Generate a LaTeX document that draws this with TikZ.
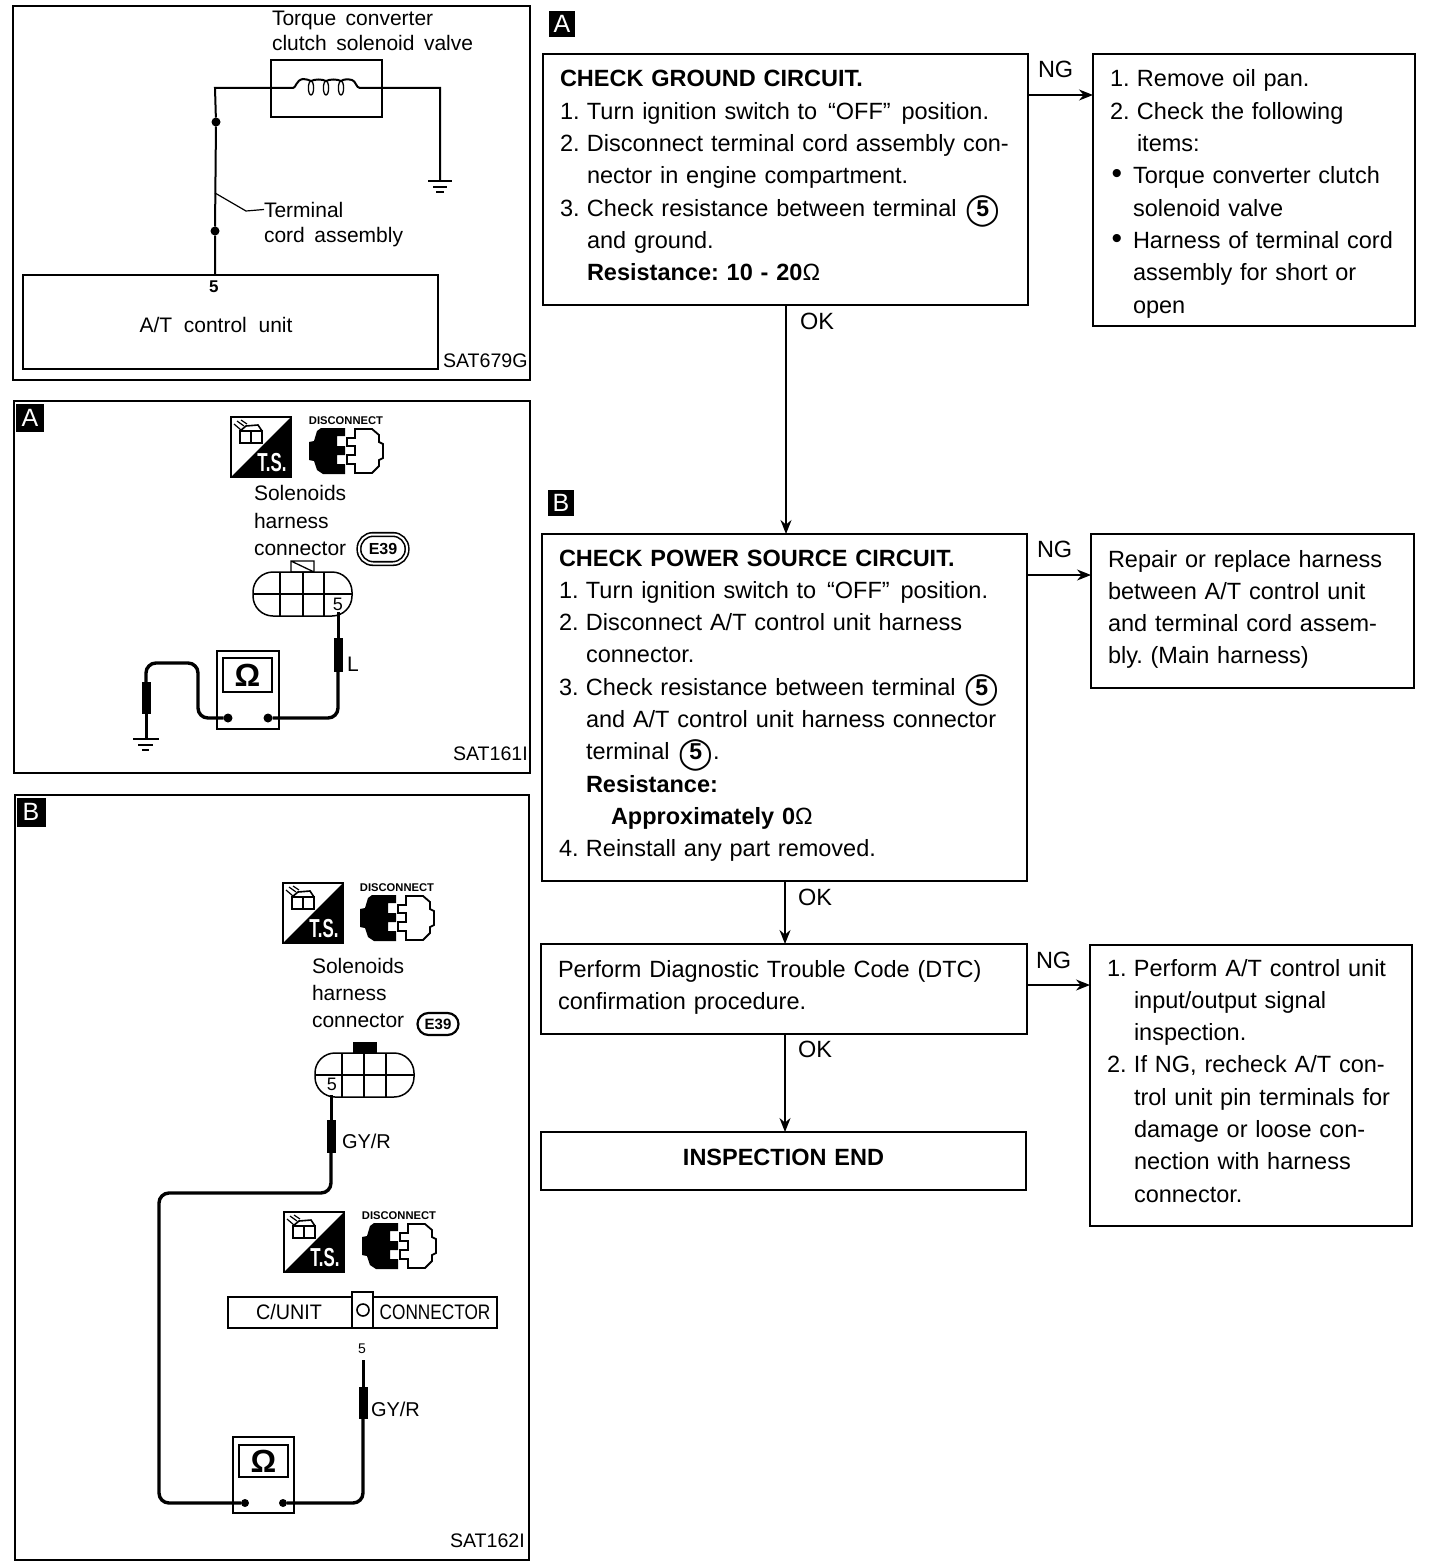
\documentclass[tikz,border=0pt]{standalone}
\usepackage{fontspec}
\usepackage{graphicx}
\setmainfont{Liberation Sans}
\newfontfamily\circfont{DejaVu Sans}
\usetikzlibrary{arrows.meta,calc}
\frenchspacing
\newcommand\ffl{\fontsize{23.5}{32.3}\selectfont}
\newcommand\fsm{\fontsize{21}{25}\selectfont}
\newcommand\fsat{\fontsize{19.6}{25}\selectfont}
\newcommand\gap{\hspace{9.5pt}}
\newcommand\cfive{\hspace*{1pt}\smash{\ooalign{\raisebox{-3.5pt}{\circfont\bfseries\fontsize{31}{31}\selectfont ◯}\cr\hfil\bfseries\fontsize{23}{23}\selectfont 5\hfil}}}
\newcommand\nr[1]{\makebox[27pt][l]{#1}}
\newcommand\ind{\hspace*{27pt}}
\newcommand\bul{\makebox[23pt][l]{\hspace*{1.5pt}\fontsize{30}{30}\selectfont •}}
\newcommand\qo{\kern3pt“}
\newcommand\qc{”\kern3pt}
\newcommand\ohm{\textmd{Ω}}
% name, x1, y1, x2, y2, inset, first baseline, last baseline, text
\newcommand\flowbox[9]{%
  \pgfmathsetmacro\fbw{#4-#2}\pgfmathsetmacro\fbh{#5-#3}%
  \pgfmathsetmacro\fbt{\fbw-2*#6}\pgfmathsetmacro\fba{#7-#3}\pgfmathsetmacro\fbb{#5-#8}%
  \node[flow,minimum width=\fbw pt,minimum height=\fbh pt,text width=\fbt pt,inner xsep=#6pt] (#1) at (#2,#3)
    {\rule{0pt}{\fba pt}#9\rule[-\fbb pt]{0pt}{\fbb pt}};}
\newcommand\lbl[4]{\node[lab] (#1) at (#2,#3) {#4};}
\newcommand\tsicon[3]{%
  \begin{scope}[shift={(#2,#3)}]
    \node[draw,line width=1.8pt,minimum size=60pt,inner sep=0,anchor=north west] (#1) at (0,0) {};
    \fill (60,0) -- (60,60) -- (0,60) -- cycle;
    \draw[line width=1.6pt] (9,14) rectangle (31,26) (20,14) -- (20,26) (9,14) -- (15,9) -- (27,8) -- (31,14);
    \draw[line width=1.2pt] (3,7) -- (10,13) (6,4) -- (13,9) (10,3) -- (16,7);
    \node[white,font=\bfseries\fontsize{26}{26}\selectfont,inner sep=0] (#1t) at (41,46) {\scalebox{0.65}[1]{T.S.}};
  \end{scope}}
\newcommand\plugicon[3]{%
  \begin{scope}[shift={(#2,#3)}]
    \node[font=\bfseries\fontsize{11.2}{11.2}\selectfont,inner sep=0,anchor=base] (#1) at (37,-4) {DISCONNECT};
    \fill (0,14) -- (5,13) -- (8,3) -- (12,0) -- (36,0) -- (36,8) -- (28,8) -- (28,18) -- (36,18) -- (36,27) -- (28,27) -- (28,36) -- (36,36) -- (36,46) -- (14,46) -- (8,42) -- (5,33) -- (0,32) -- cycle;
    \draw[line width=1.8pt] (38,10) -- (46,10) -- (46,1) -- (63,1) -- (70,7) -- (70,14) -- (74,16) -- (74,30) -- (70,32) -- (70,38) -- (63,45) -- (46,45) -- (46,36) -- (38,36) -- (38,27) -- (46,27) -- (46,18) -- (38,18) -- cycle;
  \end{scope}}
\tikzset{
  every node/.style={outer sep=0pt},
  flow/.style={draw,line width=1.7pt,rectangle,anchor=north west,inner ysep=0pt,align=left,font=\ffl},
  lab/.style={anchor=base west,inner sep=0,font=\fsm},
  edgelab/.style={anchor=base west,inner sep=0,font=\fontsize{23.5}{25}\selectfont},
  panel/.style={line width=2pt},
  wire/.style={line width=2pt},
  leadwire/.style={line width=3pt},
  thickwire/.style={line width=3.4pt,rounded corners=10pt},
  flowarrow/.style={line width=1.3pt,-{Stealth[length=14pt,width=11pt]}},
  badge/.style={fill=black,text=white,inner sep=0,minimum size=26pt,font=\fontsize{25}{25}\selectfont},
  dot/.style={circle,fill=black,inner sep=0,minimum size=9pt},
  sleeve/.style={fill=black,inner sep=0,anchor=north},
}
\begin{document}
\begin{tikzpicture}[x=1pt,y=-1pt]
\useasboundingbox (0,0) rectangle (1440,1568);
%% ---------- Panel 1
\draw[panel] (13,6) rectangle (530,380);
\node[draw,line width=2pt,minimum width=111pt,minimum height=57pt,inner sep=0,anchor=north west] (sol) at (271,60) {};
\node[draw,line width=2pt,minimum width=415pt,minimum height=94pt,inner sep=0,anchor=north west] (atcu) at (23,275) {};
\lbl{tq1}{272}{26}{Torque\gap converter}
\lbl{tq2}{272}{51}{clutch\gap solenoid\gap valve}
\lbl{t5}{209}{292}{\bfseries\fontsize{17}{17}\selectfont 5}
\node[inner sep=0,font=\fsm,anchor=base] (atl) at (216,332) {A/T\ \ control\ \ unit};
\node[lab,font=\fsat] (sat1) at (443,367) {SAT679G};
\lbl{term}{264}{217}{Terminal}
\lbl{cord}{264}{242}{cord\gap assembly}
\node[dot] (d1) at (216,122) {};
\node[dot] (d2) at (215,231) {};
\coordinate (cA) at (215,88);
\coordinate (gnd1) at (440,180);
\draw[wire] (atcu.north west -| d2) -- (d2) -- (d1) -- (cA) -- (sol.west |- cA) -- (293,88)
  .. controls (296,88) and (296,80) .. (303,79) .. controls (306,79) and (309,80) .. (311,81)
  .. controls (315,79) and (322,79) .. (326,81) .. controls (330,79) and (337,79) .. (341,81)
  .. controls (344,79) and (348,79) .. (352,80) .. controls (356,81) and (356,88) .. (360,88) -- (sol.east |- cA) -- (440,88) -- (gnd1);
\draw[line width=1.3pt] (311,88) ellipse (2.6 and 7) (326,88) ellipse (2.6 and 7) (341,88) ellipse (2.6 and 7);
\draw[line width=1.5pt] (428,181) -- (452,181) (433,187) -- (447,187);
\draw[line width=2pt] (436,192) -- (444,192);
\draw[line width=1.2pt] (215,193) -- (246,211) -- (term.west);
%% ---------- Panel 2
\draw[panel] (14,401) rectangle (530,773);
\node[badge,minimum size=28pt] (bA1) at (30,418) {A};
\tsicon{ts1}{231}{417}
\plugicon{pl1}{309}{428}
\lbl{sa1}{254}{500}{Solenoids}
\lbl{sa2}{254}{528}{harness}
\lbl{sa3}{254}{555}{connector}
\node[draw,double,double distance=2pt,line width=1.6pt,rounded corners=14pt,minimum width=48pt,minimum height=29pt,inner sep=0,font=\bfseries\fontsize{16}{16}\selectfont] (e1) at (383,549) {E39};
\draw[line width=1.5pt,rounded corners=20pt] (253,572) rectangle (352,616);
\draw[line width=1.5pt] (253,594) -- (352,594) (280,572) -- (280,616) (303,572) -- (303,616) (324,572) -- (324,616);
\draw[line width=1.3pt] (291,572) rectangle (314,561) (291,561) -- (314,572);
\node[font=\fontsize{18}{18}\selectfont,inner sep=0,fill=white,anchor=base] (p5a) at (338,610) {5};
\coordinate (w1) at (338,612);
\node[sleeve,minimum width=9pt,minimum height=34pt] (s1) at (338,638) {};
\node[inner sep=0,anchor=base west,font=\fsm] (ll) at (347,671) {L};
\node[draw,line width=2pt,minimum width=62pt,minimum height=78pt,inner sep=0,anchor=north west] (m1) at (217,651) {};
\node[draw,line width=2pt,minimum width=49pt,minimum height=34pt,inner sep=0,anchor=north west,font=\bfseries\fontsize{32}{32}\selectfont] (m1d) at (223,658) {Ω};
\node[dot] (m1l) at (228,718) {};
\node[dot] (m1r) at (268,718) {};
\draw[leadwire] (w1) -- (s1.north);
\draw[thickwire] (s1.south) -- (338,718) -- (m1r);
\node[sleeve,minimum width=9pt,minimum height=32pt] (s2) at (146,682) {};
\coordinate (g2) at (146,739);
\draw[thickwire] (m1l) -- (198,718) -- (198,663) -- (146,663) -- (s2.north);
\draw[leadwire] (s2.south) -- (g2);
\draw[line width=2pt] (133,739) -- (159,739) (138,745) -- (153,745);
\draw[line width=2.5pt] (142,750) -- (149,750);
\node[lab,font=\fsat] (sat2) at (453,760) {SAT161I};
%% ---------- Panel 3
\draw[panel] (15,795) rectangle (529,1560);
\node[badge,minimum size=29pt] (bB1) at (31,812) {B};
\tsicon{ts2}{283}{883}
\plugicon{pl2}{360}{895}
\lbl{sb1}{312}{973}{Solenoids}
\lbl{sb2}{312}{1000}{harness}
\lbl{sb3}{312}{1027}{connector}
\node[draw,line width=2.2pt,rounded corners=11pt,minimum width=41pt,minimum height=22pt,inner sep=0,font=\bfseries\fontsize{15}{15}\selectfont] (e2) at (438,1024) {E39};
\draw[line width=1.5pt,rounded corners=20pt] (315,1053) rectangle (414,1097);
\draw[line width=1.5pt] (315,1075) -- (414,1075) (342,1053) -- (342,1097) (364,1053) -- (364,1097) (386,1053) -- (386,1097);
\fill (353,1042) rectangle (377,1053);
\node[font=\fontsize{18}{18}\selectfont,inner sep=0,fill=white,anchor=base] (p5b) at (332,1090) {5};
\coordinate (w3) at (331,1095);
\node[sleeve,minimum width=9pt,minimum height=33pt] (s3) at (331,1120) {};
\node[lab,font=\fontsize{20}{25}\selectfont] (gy1) at (342,1148) {GY/R};
\draw[leadwire] (w3) -- (s3.north);
\node[draw,line width=2pt,minimum width=61pt,minimum height=76pt,inner sep=0,anchor=north west] (m2) at (233,1437) {};
\node[draw,line width=2pt,minimum width=49pt,minimum height=32pt,inner sep=0,anchor=north west,font=\bfseries\fontsize{32}{32}\selectfont] (m2d) at (239,1445) {Ω};
\node[dot,minimum size=8pt] (m2l) at (245,1503) {};
\node[dot,minimum size=8pt] (m2r) at (283,1503) {};
\draw[thickwire] (s3.south) -- (331,1193) -- (159,1193) -- (159,1503) -- (m2l);
\tsicon{ts3}{284}{1212}
\plugicon{pl3}{362}{1223}
\node[draw,line width=2.2pt,minimum width=269pt,minimum height=31pt,inner sep=0,anchor=north west] (cu) at (228,1297) {};
\node[draw,fill=white,line width=2pt,minimum width=21pt,minimum height=36pt,inner sep=0,anchor=north west] (cub) at (352,1292) {};
\draw[line width=1.6pt] (363,1310) circle (6);
\node[inner sep=0,anchor=base,font=\fsm] (cut) at (289,1319) {\scalebox{0.94}[1]{C/UNIT}};
\node[inner sep=0,anchor=base,font=\fsm] (cuc) at (435,1319) {\scalebox{0.82}[1]{CONNECTOR}};
\node[inner sep=0,anchor=base,font=\fontsize{14}{14}\selectfont] (p5c) at (362,1353) {5};
\node[sleeve,minimum width=9pt,minimum height=32pt] (s4) at (363,1387) {};
\coordinate (w4) at (363,1360);
\draw[leadwire] (w4) -- (s4.north);
\draw[thickwire] (s4.south) -- (363,1503) -- (m2r);
\node[lab,font=\fontsize{20}{25}\selectfont] (gy2) at (371,1416) {GY/R};
\node[lab,font=\fsat] (sat3) at (450,1547) {SAT162I};
%% ---------- Flow chart
\node[badge] (bA) at (562,24) {A};
\node[badge] (bB) at (561,503) {B};
\flowbox{boxA}{543}{54}{1028}{305}{17}{87}{280.8}{%
\textbf{CHECK GROUND CIRCUIT.}\\
\nr{1.}Turn ignition switch to \qo OFF\qc\ position.\\
\nr{2.}Disconnect terminal cord assembly con-\\
\ind nector in engine compartment.\\
\nr{3.}Check resistance between terminal \cfive\\
\ind and ground.\\
\ind\textbf{Resistance: 10 - 20\ohm}}
\flowbox{boxAr}{1093}{54}{1415}{326}{17}{87}{313.1}{%
\nr{1.}Remove oil pan.\\
\nr{2.}Check the following\\
\ind items:\\
\bul Torque converter clutch\\
\hspace*{23pt}solenoid valve\\
\bul Harness of terminal cord\\
\hspace*{23pt}assembly for short or\\
\hspace*{23pt}open}
\flowbox{boxB}{542}{534}{1027}{881}{17}{566}{856.7}{%
\textbf{CHECK POWER SOURCE CIRCUIT.}\\
\nr{1.}Turn ignition switch to \qo OFF\qc\ position.\\
\nr{2.}Disconnect A/T control unit harness\\
\ind connector.\\
\nr{3.}Check resistance between terminal \cfive\\
\ind and A/T control unit harness connector\\
\ind terminal \cfive.\\
\ind\textbf{Resistance:}\\
\hspace*{52pt}\textbf{Approximately 0\ohm}\\
\nr{4.}Reinstall any part removed.}
\flowbox{boxBr}{1091}{534}{1414}{688}{17}{567}{663.9}{%
Repair or replace harness\\
between A/T control unit\\
and terminal cord assem-\\
bly. (Main harness)}
\flowbox{boxC}{541}{944}{1027}{1034}{17}{977}{1009.3}{%
Perform Diagnostic Trouble Code (DTC)\\
confirmation procedure.}
\flowbox{boxCr}{1090}{945}{1412}{1226}{17}{976}{1202.1}{%
\nr{1.}Perform A/T control unit\\
\ind input/output signal\\
\ind inspection.\\
\nr{2.}If NG, recheck A/T con-\\
\ind trol unit pin terminals for\\
\ind damage or loose con-\\
\ind nection with harness\\
\ind connector.}
\flowbox{boxE}{541}{1132}{1026}{1190}{0}{1165}{1165}{\makebox[485pt]{\textbf{INSPECTION END}}}
\draw[flowarrow] (boxA.east |- 0,95) -- (boxAr.west |- 0,95);
\draw[flowarrow] (boxB.east |- 0,575) -- (boxBr.west |- 0,575);
\draw[flowarrow] (boxC.east |- 0,985) -- (boxCr.west |- 0,985);
\draw[flowarrow] (786,0 |- boxA.south) -- (786,0 |- boxB.north);
\draw[flowarrow] (785,0 |- boxB.south) -- (785,0 |- boxC.north);
\draw[flowarrow] (785,0 |- boxC.south) -- (785,0 |- boxE.north);
\node[edgelab] (ng1) at (1038,78) {NG};
\node[edgelab] (ng2) at (1037,557) {NG};
\node[edgelab] (ng3) at (1036,968) {NG};
\node[edgelab] (ok1) at (800,329) {OK};
\node[edgelab] (ok2) at (798,905) {OK};
\node[edgelab] (ok3) at (798,1057) {OK};
\end{tikzpicture}
\end{document}
